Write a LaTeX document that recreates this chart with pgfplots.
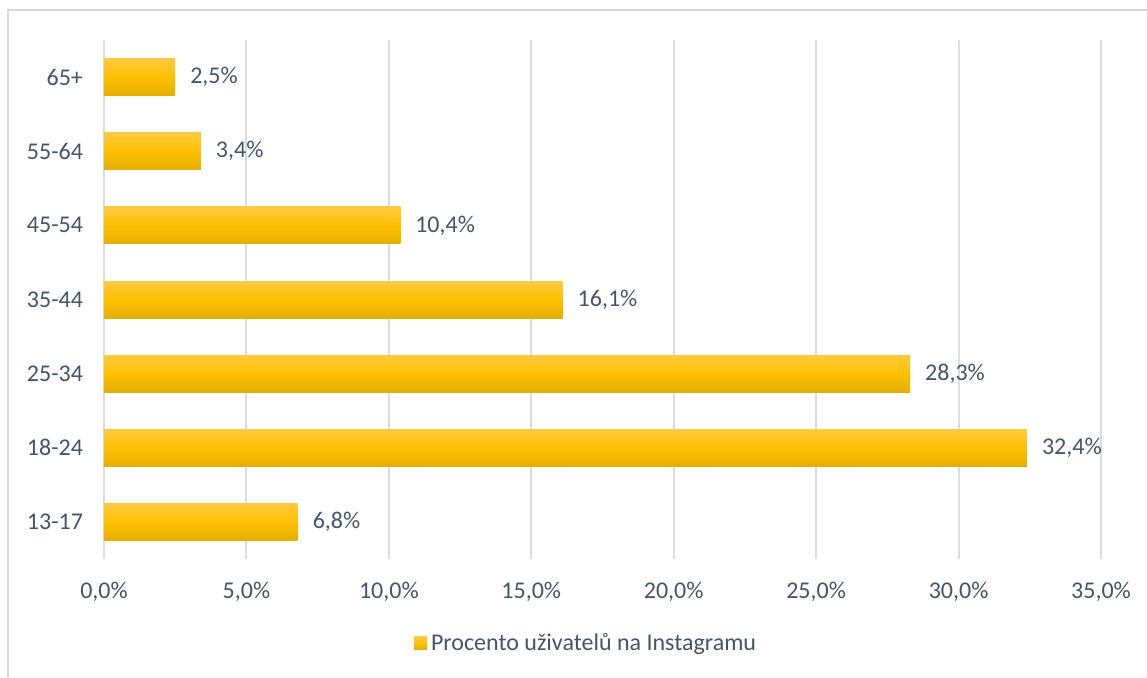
\documentclass[border=0pt]{standalone}
\usepackage{fontspec}
\setmainfont{Carlito}
\usepackage{pgfplots}
\pgfplotsset{compat=1.18}
\definecolor{txt}{RGB}{68,84,106}
\definecolor{grd}{RGB}{217,222,230}
\definecolor{brd}{RGB}{217,217,217}
\definecolor{barT}{RGB}{255,202,64}
\definecolor{barM}{RGB}{255,192,0}
\definecolor{barB}{RGB}{229,175,0}
\newcommand{\fs}{\fontsize{12}{14}\selectfont}
\pgfplotsset{gbar/.style={draw=none, top color=barT, bottom color=barB, middle color=barM}}
\begin{document}
\begin{tikzpicture}[x=0.5pt,y=0.5pt]
\useasboundingbox (0,0) rectangle (1147,677);
\begin{scope}
\clip (0,0) rectangle (1147,677);
\draw[brd, line width=1pt] (8,-10) rectangle (1160,667);
\end{scope}
\begin{axis}[
  at={(104*0.5pt,118*0.5pt)}, anchor=south west,
  scale only axis, width=498.5pt, height=259.5pt,
  xbar, bar width=18.5pt, bar shift=0pt,
  xmin=0, xmax=35, ymin=-0.5, ymax=6.5,
  axis line style={draw=none},
  xmajorgrids, grid style={grd, line width=1pt},
  xtick={0,5,...,35},
  ytick={0,...,6},
  yticklabels={13-17,18-24,25-34,35-44,45-54,55-64,65+},
  major tick length=0pt,
  /pgf/number format/assume math mode=true,
  xticklabel={\pgfmathprintnumber[fixed,precision=1,zerofill,use comma]{\tick}\%},
  xticklabel style={font=\fs, text=txt, yshift=-8pt},
  yticklabel style={font=\fs, text=txt, xshift=-7pt},
  nodes near coords={\pgfmathprintnumber[fixed,precision=1,zerofill,use comma,assume math mode=true]{\pgfplotspointmeta}\%},
  nodes near coords style={font=\fs, text=txt, anchor=west, xshift=4pt},
  legend style={at={(0.4845,-0.162)}, anchor=center, draw=none, fill=none, font=\fs, text=txt, inner sep=0pt},
  legend image code/.code={\shade[top color=barT, bottom color=barB, middle color=barM] (0pt,-3.2pt) rectangle (6.5pt,3.2pt);},
  clip=false,
]
\addplot[gbar] coordinates {(6.8,0)};
\addlegendentry{Procento uživatelů na Instagramu}
\addplot[gbar, forget plot] coordinates {(32.4,1)};
\addplot[gbar, forget plot] coordinates {(28.3,2)};
\addplot[gbar, forget plot] coordinates {(16.1,3)};
\addplot[gbar, forget plot] coordinates {(10.4,4)};
\addplot[gbar, forget plot] coordinates {(3.4,5)};
\addplot[gbar, forget plot] coordinates {(2.5,6)};
\end{axis}
\end{tikzpicture}
\end{document}
